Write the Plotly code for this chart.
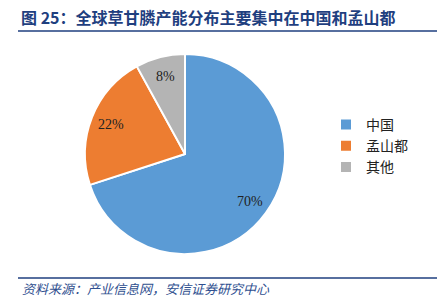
import math
import plotly.graph_objects as go

W, H = 437, 303

labels = ["中国", "孟山都", "其他"]
shares = [70, 22, 8]
colors = ["#5B9BD5", "#ED7D31", "#B4B4B4"]

title_text = "图 25：全球草甘膦产能分布主要集中在中国和孟山都"
source_text = "资料来源：产业信息网，安信证券研究中心"

# pie centre and radius in pixels
cx, cy, r = 185, 154, 100

fig = go.Figure(
    go.Pie(
        labels=labels,
        values=shares,
        sort=False,
        direction="clockwise",
        rotation=0,
        marker=dict(colors=colors, line=dict(color="white", width=2)),
        textinfo="none",
        domain=dict(x=[(cx - r) / W, (cx + r) / W], y=[(H - cy - r) / H, (H - cy + r) / H]),
        hoverinfo="skip",
    )
)

# percentage labels placed at each slice's mid-angle, 0.8 of the radius out
annotations = []
total = sum(shares)
start = 0.0
for v in shares:
    mid = (start + v / 2) / total * 2 * math.pi  # clockwise from 12 o'clock
    start += v
    px = cx + 0.8 * r * math.sin(mid)
    py = cy - 0.8 * r * math.cos(mid)
    annotations.append(dict(
        text=f"{v}%", xref="paper", yref="paper", x=px / W, y=1 - py / H,
        xanchor="center", yanchor="middle", showarrow=False,
        font=dict(family="Liberation Serif, Times New Roman, serif", size=14, color="#222222"),
    ))

line_color = "#1F3F7F"
annotations += [
    dict(text=f"<b>{title_text}</b>", xref="paper", yref="paper", x=19 / W, y=1 - 17 / H,
         xanchor="left", yanchor="middle", showarrow=False,
         font=dict(family="Noto Sans CJK SC", size=16, color=line_color)),
    dict(text=f"<i>{source_text}</i>", xref="paper", yref="paper", x=20 / W, y=1 - 288 / H,
         xanchor="left", yanchor="middle", showarrow=False,
         font=dict(family="Noto Sans CJK SC", size=13, color="#2F4F8F")),
]

fig.update_layout(
    width=W,
    height=H,
    margin=dict(l=0, r=0, t=0, b=0),
    paper_bgcolor="white",
    plot_bgcolor="white",
    showlegend=True,
    legend=dict(
        x=326 / W, y=1 - 146 / H, xanchor="left", yanchor="middle",
        font=dict(family="Noto Sans CJK SC", size=14, color="#222222"),
        itemwidth=30,
    ),
    shapes=[
        dict(type="line", xref="paper", yref="paper", x0=18 / W, x1=1, y0=1 - 31 / H, y1=1 - 31 / H,
             line=dict(color=line_color, width=1.5)),
        dict(type="line", xref="paper", yref="paper", x0=18 / W, x1=1, y0=1 - 278 / H, y1=1 - 278 / H,
             line=dict(color=line_color, width=1.5)),
    ],
    annotations=annotations,
)

fig.write_html("out.html")
